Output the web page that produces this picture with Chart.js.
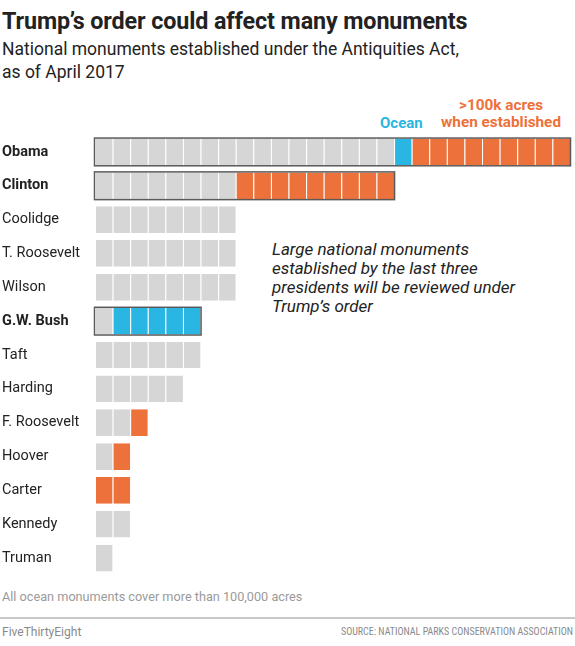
<!DOCTYPE html>
<html>
<head>
<meta charset="utf-8">
<script src="https://cdn.jsdelivr.net/npm/chart.js@4/dist/chart.umd.min.js"></script>
<style>
  html, body { margin:0; padding:0; background:#fff; }
  body { width:575px; height:646px; position:relative; overflow:hidden; font-family: Roboto, "Liberation Sans", sans-serif; color:#222; }
  .abs { position:absolute; white-space:nowrap; }
  #title { left:2px; top:7px; font-size:23.3px; font-weight:bold; color:#222; letter-spacing:-0.1px; }
  #sub { left:2px; top:38px; font-size:17.5px; line-height:23px; color:#222; }
  #ocean { left:380px; top:114px; font-size:15px; font-weight:bold; color:#29b6e2; }
  #big { right:14px; top:97px; font-size:15.3px; font-weight:bold; color:#ed713a; text-align:center; line-height:17px; }
  #note { left:272px; top:240px; font-size:17px; font-style:italic; line-height:19px; color:#222; }
  #foot { left:2px; top:589px; font-size:12.7px; color:#9a9a9a; }
  #rule { left:0; top:617px; width:575px; height:2px; background:#c8c8c8; }
  #brand { left:2px; top:625px; font-size:12px; color:#8a8a8a; }
  #src { right:2px; top:625px; font-size:11px; color:#8a8a8a; font-family:"Roboto Condensed","Liberation Sans Narrow","DejaVu Sans Condensed",sans-serif; transform:scaleX(0.91); transform-origin:right center; }
  #wrap { position:absolute; left:0; top:135px; width:575px; height:440px; }
</style>
</head>
<body>
<div class="abs" id="title">Trump’s order could affect many monuments</div>
<div class="abs" id="sub">National monuments established under the Antiquities Act,<br>as of April 2017</div>
<div class="abs" id="ocean">Ocean</div>
<div class="abs" id="big">&gt;100k acres<br>when established</div>
<div class="abs" id="note">Large national monuments<br>established by the last three<br>presidents will be reviewed under<br>Trump’s order</div>
<div class="abs" id="foot">All ocean monuments cover more than 100,000 acres</div>
<div class="abs" id="rule"></div>
<div class="abs" id="brand">FiveThirtyEight</div>
<div class="abs" id="src">SOURCE: NATIONAL PARKS CONSERVATION ASSOCIATION</div>
<div id="wrap"><canvas id="c" width="575" height="440"></canvas></div>
<script>
const presidents = ["Obama","Clinton","Coolidge","T. Roosevelt","Wilson","G.W. Bush","Taft","Harding","F. Roosevelt","Hoover","Carter","Kennedy","Truman"];
const otherCounts = [17,8,8,8,8,1,6,5,2,1,0,2,1];
const oceanCounts = [1,0,0,0,0,5,0,0,0,0,0,0,0];
const largeCounts = [9,9,0,0,0,0,0,0,1,1,2,0,0];
const reviewed = ["Obama","Clinton","G.W. Bush"];

const GRAY = "#d6d6d6", BLUE = "#29b6e2", ORANGE = "#ed713a";
const maxCells = Math.max(...presidents.map((p,i)=>otherCounts[i]+oceanCounts[i]+largeCounts[i]));

const datasets = [];
for (let k = 0; k < maxCells; k++) {
  const data = [], colors = [];
  presidents.forEach((p, i) => {
    const o = otherCounts[i], b = oceanCounts[i], l = largeCounts[i];
    if (k < o) { data.push(1); colors.push(GRAY); }
    else if (k < o + b) { data.push(1); colors.push(BLUE); }
    else if (k < o + b + l) { data.push(1); colors.push(ORANGE); }
    else { data.push(null); colors.push(GRAY); }
  });
  datasets.push({
    data, backgroundColor: colors,
    borderColor: "rgba(255,255,255,0.85)",
    borderWidth: {left:1, right:0, top:0, bottom:0},
    borderSkipped: false,
    barPercentage: 0.79, categoryPercentage: 1.0
  });
}

const outlinePlugin = {
  id: "outline",
  afterDatasetsDraw(chart) {
    const {ctx, scales:{x, y}} = chart;
    ctx.save();
    ctx.strokeStyle = "#5a5a5a";
    ctx.lineWidth = 1.5;
    presidents.forEach((p, i) => {
      if (!reviewed.includes(p)) return;
      const total = otherCounts[i] + oceanCounts[i] + largeCounts[i];
      const x0 = x.getPixelForValue(0), x1 = x.getPixelForValue(total);
      const yc = y.getPixelForValue(i);
      const h = (y.getPixelForValue(1) - y.getPixelForValue(0)) * 0.79;
      ctx.strokeRect(x0 - 0.5, yc - h/2 - 0.5, x1 - x0 + 1, h + 1);
    });
    ctx.restore();
  }
};

new Chart(document.getElementById("c"), {
  type: "bar",
  data: { labels: presidents, datasets },
  options: {
    indexAxis: "y",
    responsive: false,
    animation: false,
    events: [],
    layout: { autoPadding: false, padding: { left: 2, right: 5, top: 0, bottom: 0 } },
    plugins: { legend: { display: false }, tooltip: { enabled: false } },
    scales: {
      x: { stacked: true, display: false, min: 0, max: maxCells },
      y: {
        stacked: true,
        grid: { display: false },
        border: { display: false },
        afterFit: s => { s.width = 93; s.paddingTop = 0; s.paddingBottom = 0; },
        ticks: {
          crossAlign: "far",
          padding: 0,
          color: "#222",
          font: ctx => ({ family: "Roboto, 'Liberation Sans', sans-serif", size: 14.5, weight: reviewed.includes(presidents[ctx.index]) ? "bold" : "normal" })
        }
      }
    }
  },
  plugins: [outlinePlugin]
});
</script>
</body>
</html>
